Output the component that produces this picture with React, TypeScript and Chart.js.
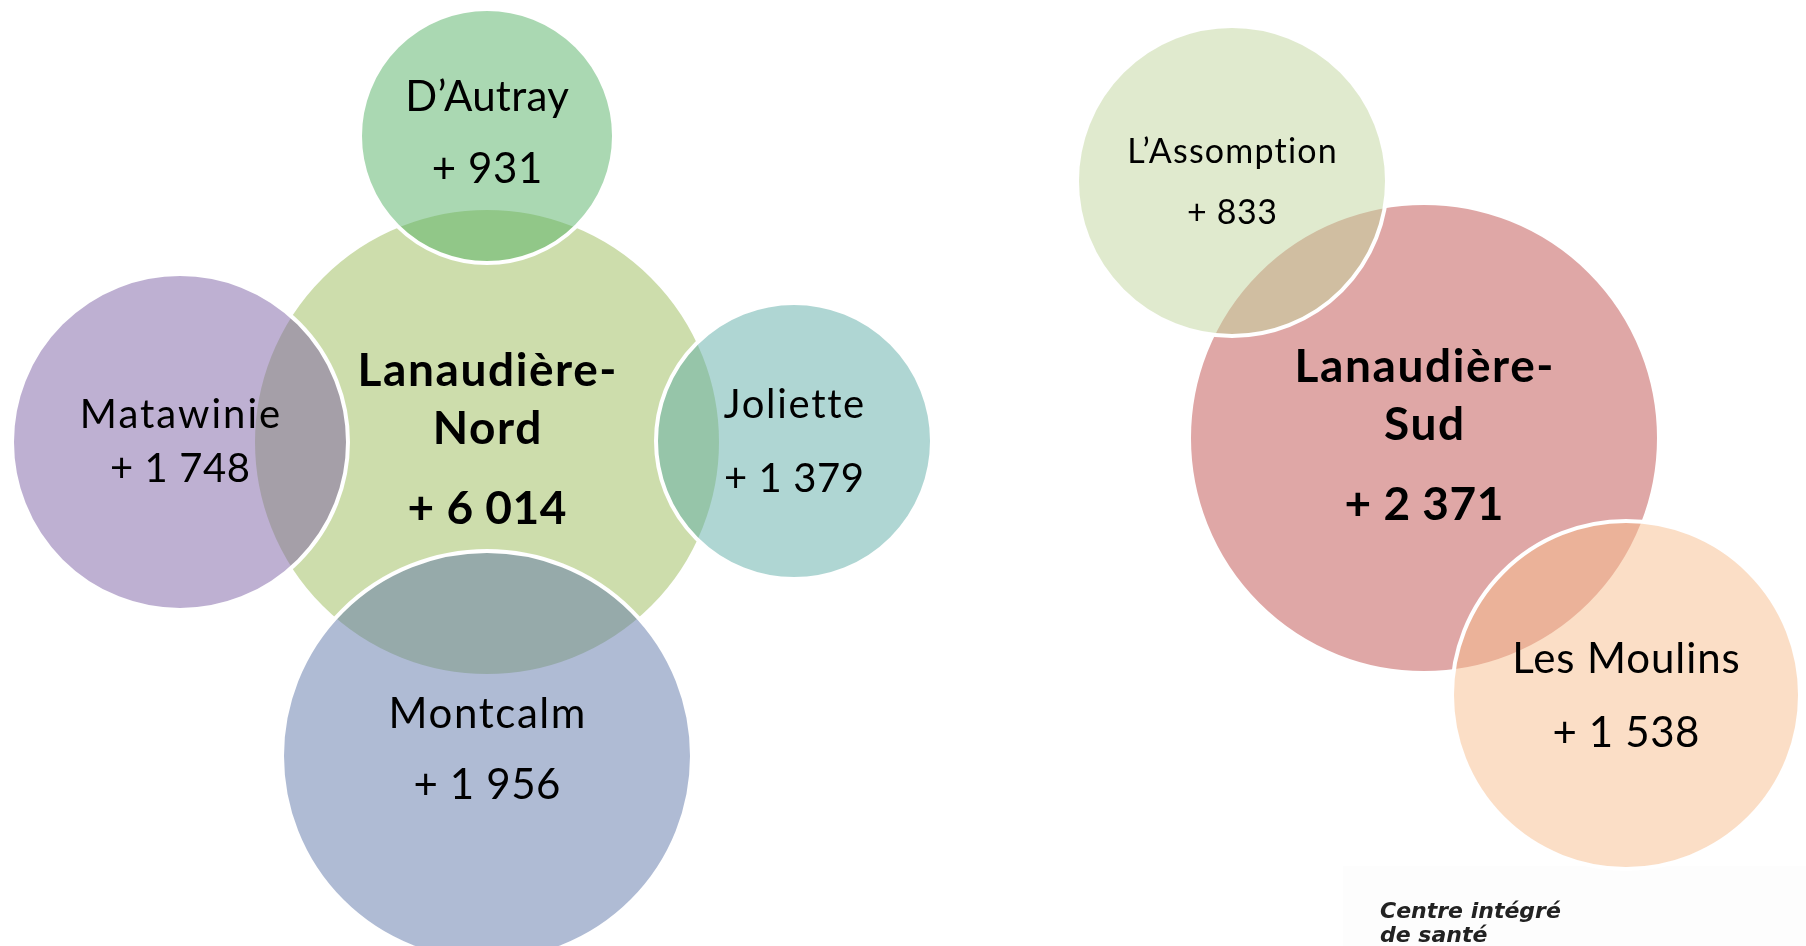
import React, { useEffect, useRef } from "react";
import { Chart, registerables } from "chart.js";

Chart.register(...registerables);

// ---- Data ----
const regionNames = ["Lanaudière-\nNord", "Lanaudière-\nSud"];
const regionGrowth = [6014, 2371];
const regionX = [487, 1424];
const regionY = [442, 438];
const regionR = [234, 235];

const mrcNames = ["D’Autray", "Matawinie", "Joliette", "Montcalm", "L’Assomption", "Les Moulins"];
const mrcGrowth = [931, 1748, 1379, 1956, 833, 1538];
const mrcX = [487, 180, 794, 487, 1232, 1626];
const mrcY = [136, 442, 441, 756, 181, 695];
const mrcR = [127, 168, 138, 205, 155, 174];

const logoLines = ["Centre intégré", "de santé"];

// ---- Styles ----
const W = 1806;
const H = 946;
const BORDER = 4;
const regionColors = ["rgba(155,187,89,0.5)", "rgba(192,80,77,0.5)"];
const mrcColors = [
  "rgba(85,177,101,0.5)",
  "rgba(126,98,165,0.5)",
  "rgba(95,173,167,0.5)",
  "rgba(95,119,169,0.5)",
  "rgba(193,213,157,0.5)",
  "rgba(247,189,141,0.5)",
];
const mrcFontSize = [42, 40, 40, 42, 34, 42];
const mrcLineGap = [72, 54, 74, 71, 61, 74];
const mrcShift = [-4, -1, 0, -8, 0, 0];
const mrcNameSpacing = [0.3, 2, 1.7, 1.6, 1.2, 0.9];
const FONT = "Lato, 'Open Sans', sans-serif";

// Chart.js pads the chart area by the largest bubble overflow; compensate so
// data units equal canvas pixels.
const PAD = Math.max(...regionR, ...mrcR) + BORDER;

const fmt = (n: number) => "+ " + String(n).replace(/\B(?=(\d{3})+(?!\d))/g, " ");

const drawSpaced = (ctx: any, text: string, x: number, y: number, sp: number) => {
  ctx.letterSpacing = sp + "px";
  ctx.fillText(text, x + sp / 2, y);
  ctx.letterSpacing = "0px";
};

const labelPlugin = {
  id: "bubbleLabels",
  beforeDatasetsDraw(chart: any) {
    const ctx = chart.ctx;
    ctx.save();
    ctx.fillStyle = "#fdfdfd";
    ctx.fillRect(1343, 866, W - 1343, H - 866);
    ctx.fillStyle = "#222";
    ctx.font = `italic bold 22px 'DejaVu Sans', sans-serif`;
    ctx.textAlign = "left";
    ctx.textBaseline = "alphabetic";
    logoLines.forEach((t, i) => ctx.fillText(t, 1380, 918 + i * 24));
    ctx.restore();
  },
  afterDatasetsDraw(chart: any) {
    const ctx = chart.ctx;
    ctx.save();
    ctx.fillStyle = "#000";
    ctx.textAlign = "center";
    ctx.textBaseline = "alphabetic";
    chart.data.datasets.forEach((ds: any, di: number) => {
      const meta = chart.getDatasetMeta(di);
      meta.data.forEach((el: any, i: number) => {
        const { x, y } = el.getProps(["x", "y"], true);
        if (ds.kind === "region") {
          ctx.font = `bold 46px ${FONT}`;
          const lines = ds.names[i].split("\n");
          let by = y - 56;
          lines.forEach((l: string) => {
            drawSpaced(ctx, l, x, by, 1.6);
            by += 58;
          });
          drawSpaced(ctx, fmt(ds.values[i]), x, by - 58 + 80, 0.5);
        } else {
          const fs = mrcFontSize[i];
          const gap = mrcLineGap[i];
          const cap = fs * 0.72;
          ctx.font = `${fs}px ${FONT}`;
          const b1 = y + mrcShift[i] - gap / 2 + cap / 2;
          drawSpaced(ctx, ds.names[i], x, b1, mrcNameSpacing[i]);
          drawSpaced(ctx, fmt(ds.values[i]), x, b1 + gap, 0.6);
        }
      });
    });
    ctx.restore();
  },
};

export default function App() {
  const ref = useRef<HTMLCanvasElement | null>(null);
  useEffect(() => {
    if (!ref.current) return;
    const chart = new Chart(ref.current, {
      type: "bubble",
      data: {
        datasets: [
          {
            label: "MRC",
            kind: "mrc",
            names: mrcNames,
            values: mrcGrowth,
            data: mrcX.map((v, i) => ({ x: v, y: mrcY[i], r: mrcR[i] })),
            backgroundColor: mrcColors,
            borderColor: "#ffffff",
            borderWidth: BORDER,
            order: 1,
            clip: false,
          } as any,
          {
            label: "Régions",
            kind: "region",
            names: regionNames,
            values: regionGrowth,
            data: regionX.map((v, i) => ({ x: v, y: regionY[i], r: regionR[i] })),
            backgroundColor: regionColors,
            borderColor: "#ffffff",
            borderWidth: BORDER,
            order: 2,
            clip: false,
          } as any,
        ],
      },
      options: {
        responsive: false,
        animation: false,
        layout: { padding: 0 },
        scales: {
          x: { type: "linear", min: PAD, max: W - PAD, display: false },
          y: { type: "linear", min: PAD, max: H - PAD, reverse: true, display: false },
        },
        plugins: {
          legend: { display: false },
          tooltip: { enabled: false },
        },
        events: [],
      },
      plugins: [labelPlugin],
    });
    return () => chart.destroy();
  }, []);
  return (
    <div style={{ position: "fixed", left: 0, top: 0, width: W, height: H, background: "#fff" }}>
      <canvas ref={ref} width={W} height={H} style={{ display: "block", width: W, height: H }} />
    </div>
  );
}
